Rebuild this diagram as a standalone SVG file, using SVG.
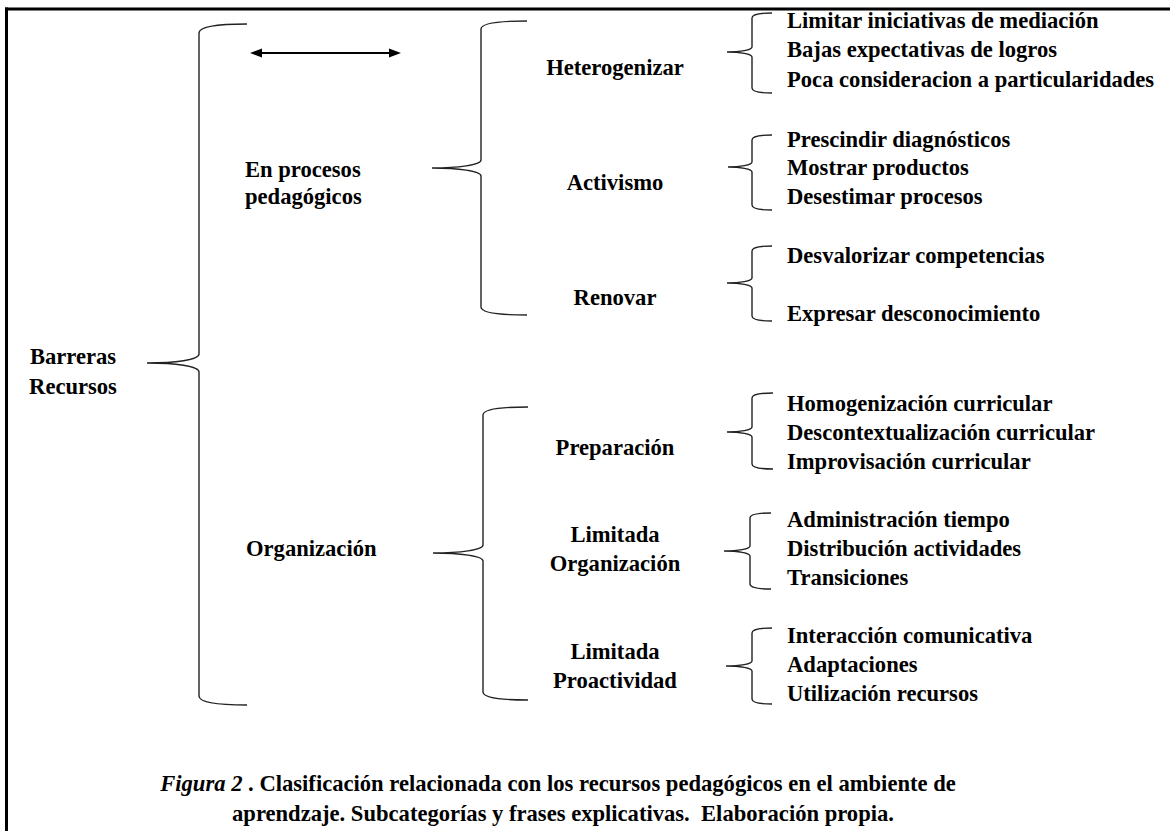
<svg xmlns="http://www.w3.org/2000/svg" width="1170" height="831" viewBox="0 0 1170 831">
<style>
.t{font-family:'Liberation Serif','DejaVu Serif',serif;font-weight:700;font-size:22.6px;fill:#000}
.m{text-anchor:middle}
.i{font-style:italic}
.br{fill:none;stroke:#222;stroke-width:1.4}
.frame{stroke:#000;stroke-width:3;fill:none}
</style>
<rect width="1170" height="831" fill="#fff"/>
<g id="frame">
<line class="frame" x1="5" y1="9" x2="1170" y2="9"/>
<line class="frame" x1="6.5" y1="7.5" x2="6.5" y2="831"/>
</g>
<g id="connectors">
<path class="br" d="M247,24 C220,24 199,26 199,33 L199,354 C199,360 175,363 147,363 C175,363 199,366 199,372 L199,696 C199,703 220,705 247,705"/>
<path class="br" d="M527,21 C500,21 481,23 481,29 L481,160 C481,165 458,168 432,168 C458,168 481,171 481,176 L481,307 C481,313 500,315 527,315"/>
<path class="br" d="M528,407 C501,407 483,409 483,415 L483,545 C483,550 460,553 433,553 C460,553 483,556 483,561 L483,692 C483,698 501,700 528,700"/>
<path class="br" d="M772,13 C760,13 752,14 752,18 L752,47 C752,50 740,52 727,52 C740,52 752,54 752,57 L752,88 C752,92 760,93 772,93"/>
<path class="br" d="M772,135 C760,135 752,136 752,140 L752,162 C752,165 740,167 728,167 C740,167 752,169 752,172 L752,205 C752,209 760,210 772,210"/>
<path class="br" d="M772,246 C760,246 752,247 752,251 L752,278 C752,281 740,283 727,283 C740,283 752,285 752,288 L752,316 C752,320 760,321 772,321"/>
<path class="br" d="M773,393 C761,393 752,394 752,398 L752,427 C752,430 740,432 727,432 C740,432 752,434 752,437 L752,464 C752,468 761,469 773,469"/>
<path class="br" d="M771,513 C759,513 750,514 750,518 L750,546 C750,549 738,551 724,551 C738,551 750,553 750,556 L750,584 C750,588 759,589 771,589"/>
<path class="br" d="M772,628 C760,628 752,629 752,633 L752,661 C752,664 740,666 726,666 C740,666 752,668 752,671 L752,699 C752,703 760,704 772,704"/>
<g id="arrow">
<line x1="258" y1="53" x2="393" y2="53" stroke="#000" stroke-width="2.2"/>
<polygon points="250,53 262,48.5 262,57.5" fill="#000"/>
<polygon points="401,53 389,48.5 389,57.5" fill="#000"/>
</g>
</g>
<g id="n-barreras"><text class="t m" x="73" y="364">Barreras</text><text class="t m" x="73" y="394">Recursos</text></g>
<g id="n-procesos"><text class="t" x="245" y="177">En procesos</text><text class="t" x="245" y="204">pedagógicos</text></g>
<g id="n-organizacion"><text class="t" x="246" y="556">Organización</text></g>
<g id="n-heterogenizar"><text class="t m" x="615" y="75">Heterogenizar</text></g>
<g id="n-activismo"><text class="t m" x="615" y="190">Activismo</text></g>
<g id="n-renovar"><text class="t m" x="615" y="305">Renovar</text></g>
<g id="n-preparacion"><text class="t m" x="615" y="455">Preparación</text></g>
<g id="n-limorg"><text class="t m" x="615" y="542">Limitada</text><text class="t m" x="615" y="571">Organización</text></g>
<g id="n-limpro"><text class="t m" x="615" y="659">Limitada</text><text class="t m" x="615" y="688">Proactividad</text></g>
<g id="n-hetero-items">
<text class="t" x="787" y="28">Limitar iniciativas de mediación</text>
<text class="t" x="787" y="57">Bajas expectativas de logros</text>
<text class="t" x="787" y="87">Poca consideracion a particularidades</text>
</g>
<g id="n-activ-items">
<text class="t" x="787" y="147">Prescindir diagnósticos</text>
<text class="t" x="787" y="175">Mostrar productos</text>
<text class="t" x="787" y="204">Desestimar procesos</text>
</g>
<g id="n-renov-items">
<text class="t" x="787" y="263">Desvalorizar competencias</text>
<text class="t" x="787" y="321">Expresar desconocimiento</text>
</g>
<g id="n-prep-items">
<text class="t" x="787" y="411">Homogenización curricular</text>
<text class="t" x="787" y="440">Descontextualización curricular</text>
<text class="t" x="787" y="469">Improvisación curricular</text>
</g>
<g id="n-limorg-items">
<text class="t" x="787" y="527">Administración tiempo</text>
<text class="t" x="787" y="556">Distribución actividades</text>
<text class="t" x="787" y="585">Transiciones</text>
</g>
<g id="n-limpro-items">
<text class="t" x="787" y="643">Interacción comunicativa</text>
<text class="t" x="787" y="672">Adaptaciones</text>
<text class="t" x="787" y="701">Utilización recursos</text>
</g>
<g id="caption">
<text class="t m" x="558" y="791" style="white-space:pre"><tspan class="i">Figura 2</tspan> . Clasificación relacionada con los recursos pedagógicos en el ambiente de</text>
<text class="t m" x="563" y="821" style="white-space:pre">aprendzaje. Subcategorías y frases explicativas.  Elaboración propia.</text>
</g>
</svg>
